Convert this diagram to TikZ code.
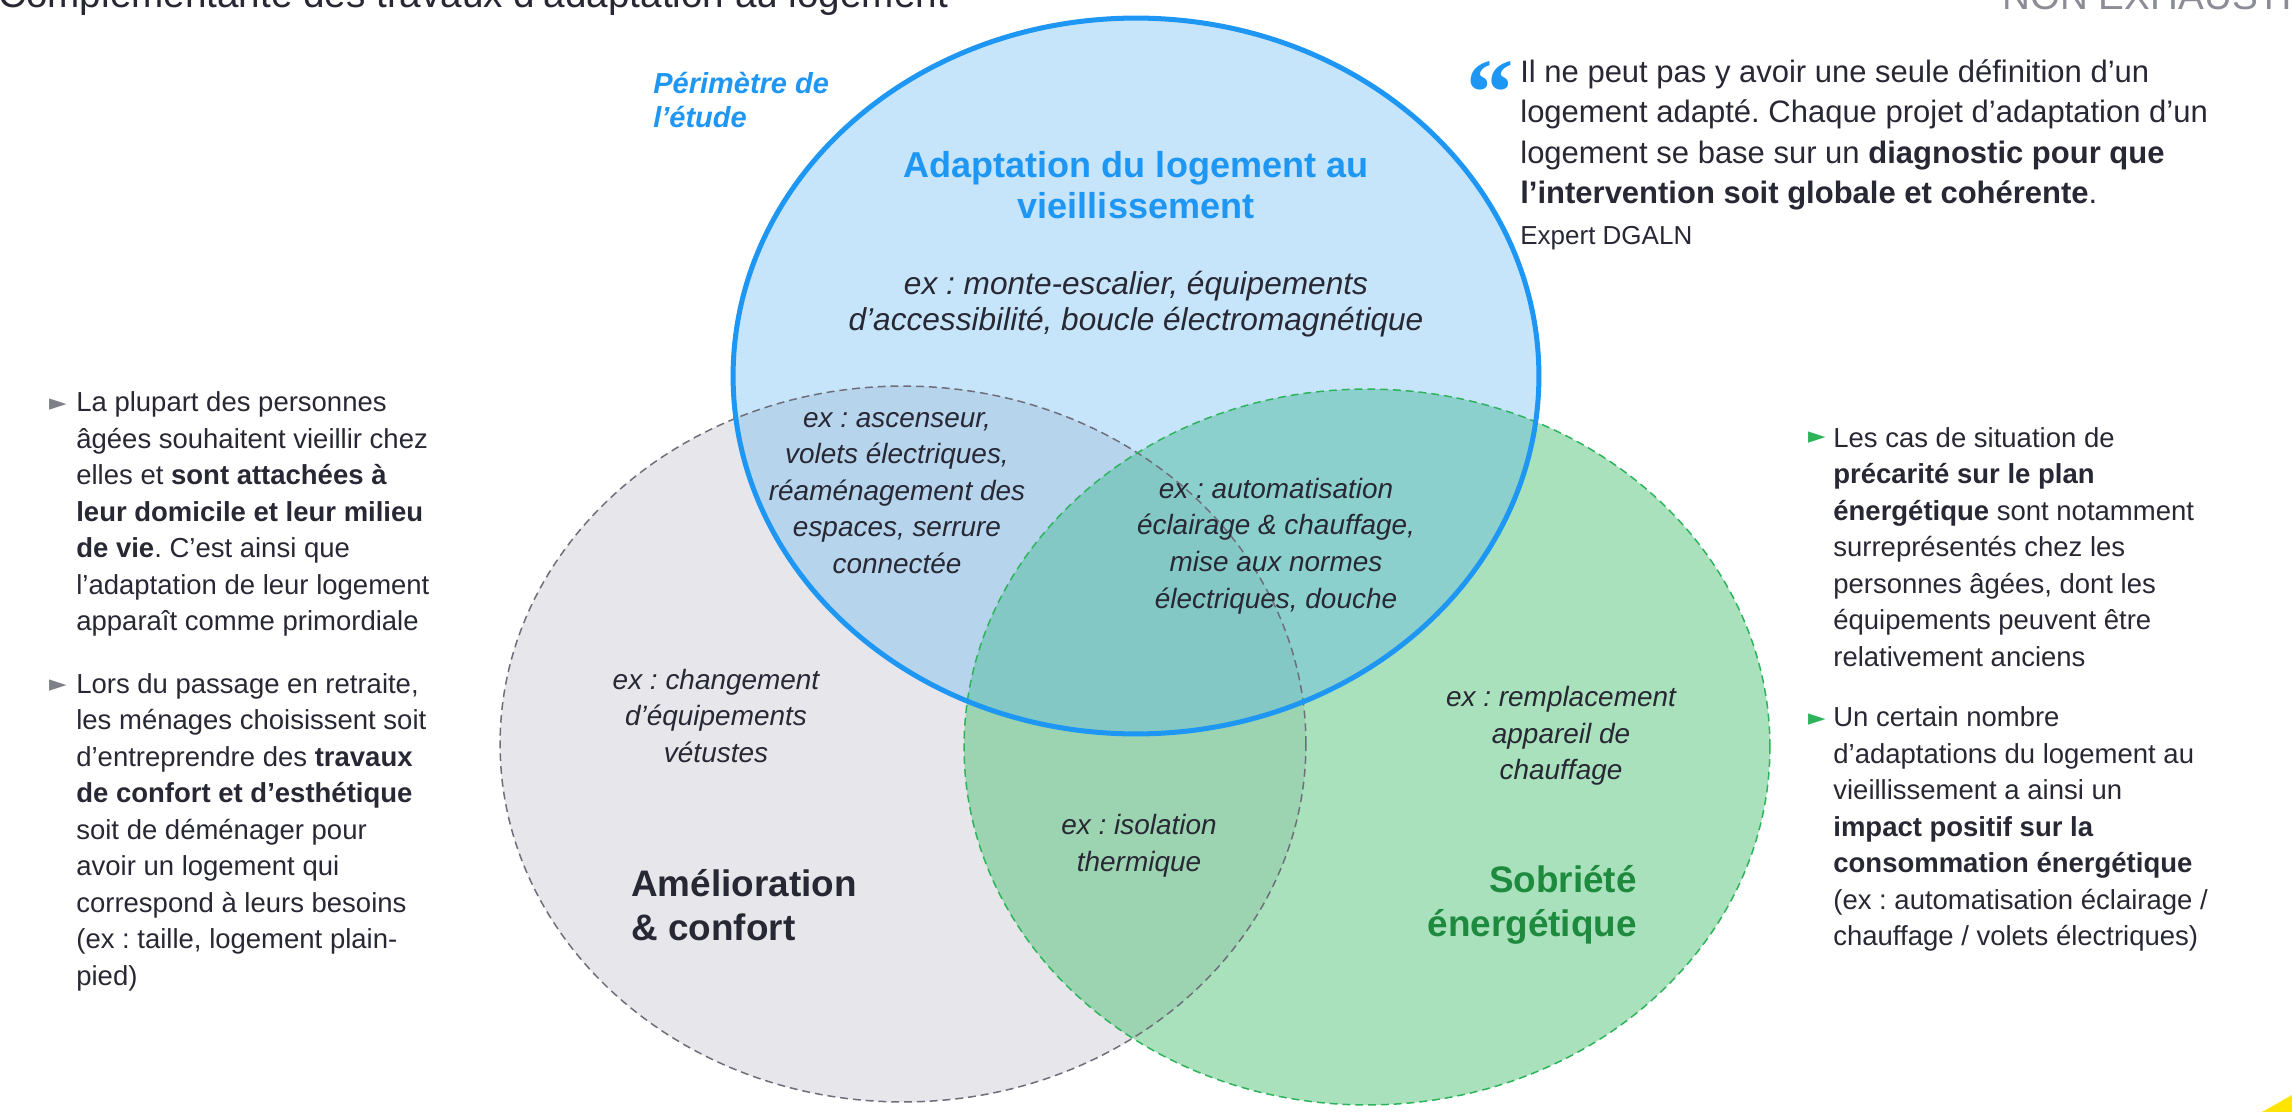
\documentclass[tikz,border=0pt]{standalone}
\usepackage{fontspec}
\setmainfont{Liberation Sans}
\newfontfamily\quotefont{Liberation Serif}
\newfontfamily\symfont{DejaVu Sans}
\usetikzlibrary{positioning}
\definecolor{adaptblue}{RGB}{30,150,243}
\definecolor{adaptfill}{RGB}{85,176,240}
\definecolor{conffill}{RGB}{230,230,235}
\definecolor{confline}{RGB}{110,110,122}
\definecolor{sobfill}{RGB}{83,195,123}
\definecolor{sobline}{RGB}{45,179,90}
\definecolor{sobtext}{RGB}{30,138,62}
\definecolor{bodytext}{RGB}{40,40,52}
\definecolor{headgray}{RGB}{140,140,150}
\definecolor{bulletgray}{RGB}{127,127,135}
\definecolor{logoyellow}{RGB}{255,228,0}

\begin{document}
\frenchspacing
\begin{tikzpicture}[
			x=0.02cm,
			y=-0.02cm,
			zone/.style={
				x radius=8.06cm,
				y radius=7.16cm
			},
			dashzone/.style={
				line width=0.85pt,
				dash pattern=on 4.5pt off 2.8pt
			},
			body/.style={
				font=\fontsize{15.65}{20.77}\selectfont,
				text=bodytext,
				align=left,
				inner sep=0pt,
				anchor=west
			},
			example/.style={
				font=\fontsize{15.9}{20.8}\selectfont\itshape,
				text=bodytext,
				align=center,
				inner sep=0pt
			},
			setname/.style={
				font=\fontsize{21}{25}\selectfont\bfseries,
				inner sep=0pt
			},
			bulletmark/.style={
				font=\symfont\fontsize{13}{13}\selectfont,
				inner sep=0pt
			}
			]
			\useasboundingbox (0,0) rectangle (2292,1112);

			% Header
			\node[font=\fontsize{22}{22}\selectfont, text=bodytext, inner sep=0pt, anchor=base west]
				(head) at (-2,8) {Complémentarité des travaux d’adaptation au logement};
			\node[font=\fontsize{22}{22}\selectfont, text=headgray, inner sep=0pt, anchor=base west]
				(nonex) at (2002,10) {NON EXHAUSTIF};

			% Circles
			\coordinate (adapt) at (1136,376);
			\coordinate (conf) at (903,744);
			\coordinate (sob) at (1367,747);
			\fill[conffill] (conf) ellipse [zone];
			\fill[sobfill, fill opacity=0.5] (sob) ellipse [zone];
			\fill[adaptfill, fill opacity=0.33] (adapt) ellipse [zone];
			\draw[confline, dashzone] (conf) ellipse [zone];
			\draw[sobline, dashzone] (sob) ellipse [zone];
			\draw[adaptblue, line width=2.85pt] (adapt) ellipse [zone];

			% Set names
			\node[font=\fontsize{16.5}{19.9}\selectfont\bfseries\itshape, text=adaptblue, align=left, inner sep=0pt, anchor=west]
				(perim) at (653,100) {Périmètre de\\l’étude};
			\node[font=\fontsize{20.5}{23.3}\selectfont\bfseries, text=adaptblue, align=center, inner sep=0pt]
				(adaptname) at (1136,185) {Adaptation du logement au\\vieillissement};
			\node[setname, text=bodytext, align=left, anchor=west]
				(confname) at (631,905) {Amélioration\\\& confort};
			\node[setname, text=sobtext, align=right, anchor=east]
				(sobname) at (1637,905) {Sobriété\\énergétique};

			% Examples
			\node[example, font=\fontsize{18}{20.8}\selectfont\itshape] (exadapt) at (1136,304)
				{ex : monte-escalier, équipements\\d’accessibilité, boucle électromagnétique};
			\node[example] (exac) at (897,493)
				{ex : ascenseur,\\volets électriques,\\réaménagement des\\espaces, serrure\\connectée};
			\node[example] (exas) at (1276,546)
				{ex : automatisation\\éclairage \& chauffage,\\mise aux normes\\électriques, douche};
			\node[example] (exconf) at (716,716)
				{ex : changement\\d’équipements\\vétustes};
			\node[example] (excs) at (1139,846)
				{ex : isolation\\thermique};
			\node[example] (exsob) at (1561,736)
				{ex : remplacement\\appareil de\\chauffage};

			% Quote
			\node[font=\quotefont\bfseries\fontsize{54}{54}\selectfont, text=adaptblue, inner sep=0pt, anchor=base west]
				(qmark) at (1466,124) {“};
			\node[body, font=\fontsize{17.64}{23.05}\selectfont]
				(quote) at (1520,135) {Il ne peut pas y avoir une seule définition d’un\\logement adapté. Chaque projet d’adaptation d’un\\logement se base sur un \textbf{diagnostic pour que}\\\textbf{l’intervention soit globale et cohérente}.};
			\node[body, font=\fontsize{14.8}{18}\selectfont]
				(expert) at (1520,238) {Expert DGALN};

			% Left bullets
			\node[bulletmark, text=bulletgray] (bl1) at (58,405) {►};
			\node[body] (pl1) at (76,514) {La plupart des personnes\\âgées souhaitent vieillir chez\\elles et \textbf{sont attachées à}\\\textbf{leur domicile et leur milieu}\\\textbf{de vie}. C’est ainsi que\\l’adaptation de leur logement\\apparaît comme primordiale};
			\node[bulletmark, text=bulletgray] (bl2) at (58,686) {►};
			\node[body] (pl2) at (76,832) {Lors du passage en retraite,\\les ménages choisissent soit\\d’entreprendre des \textbf{travaux}\\\textbf{de confort et d’esthétique}\\soit de déménager pour\\avoir un logement qui\\correspond à leurs besoins\\(ex : taille, logement plain-\\pied)};

			% Right bullets
			\node[bulletmark, text=sobline] (br1) at (1817,438) {►};
			\node[body] (pr1) at (1833,547) {Les cas de situation de\\\textbf{précarité sur le plan}\\\textbf{énergétique} sont notamment\\surreprésentés chez les\\personnes âgées, dont les\\équipements peuvent être\\relativement anciens};
			\node[bulletmark, text=sobline] (br2) at (1817,720) {►};
			\node[body] (pr2) at (1833,829) {Un certain nombre\\d’adaptations du logement au\\vieillissement a ainsi un\\\textbf{impact positif sur la}\\\textbf{consommation énergétique}\\(ex : automatisation éclairage /\\chauffage / volets électriques)};

			% Corner mark
			\fill[logoyellow] (2262,1112) -- (2292,1095) -- (2292,1112) -- cycle;
		\end{tikzpicture}
\end{document}
